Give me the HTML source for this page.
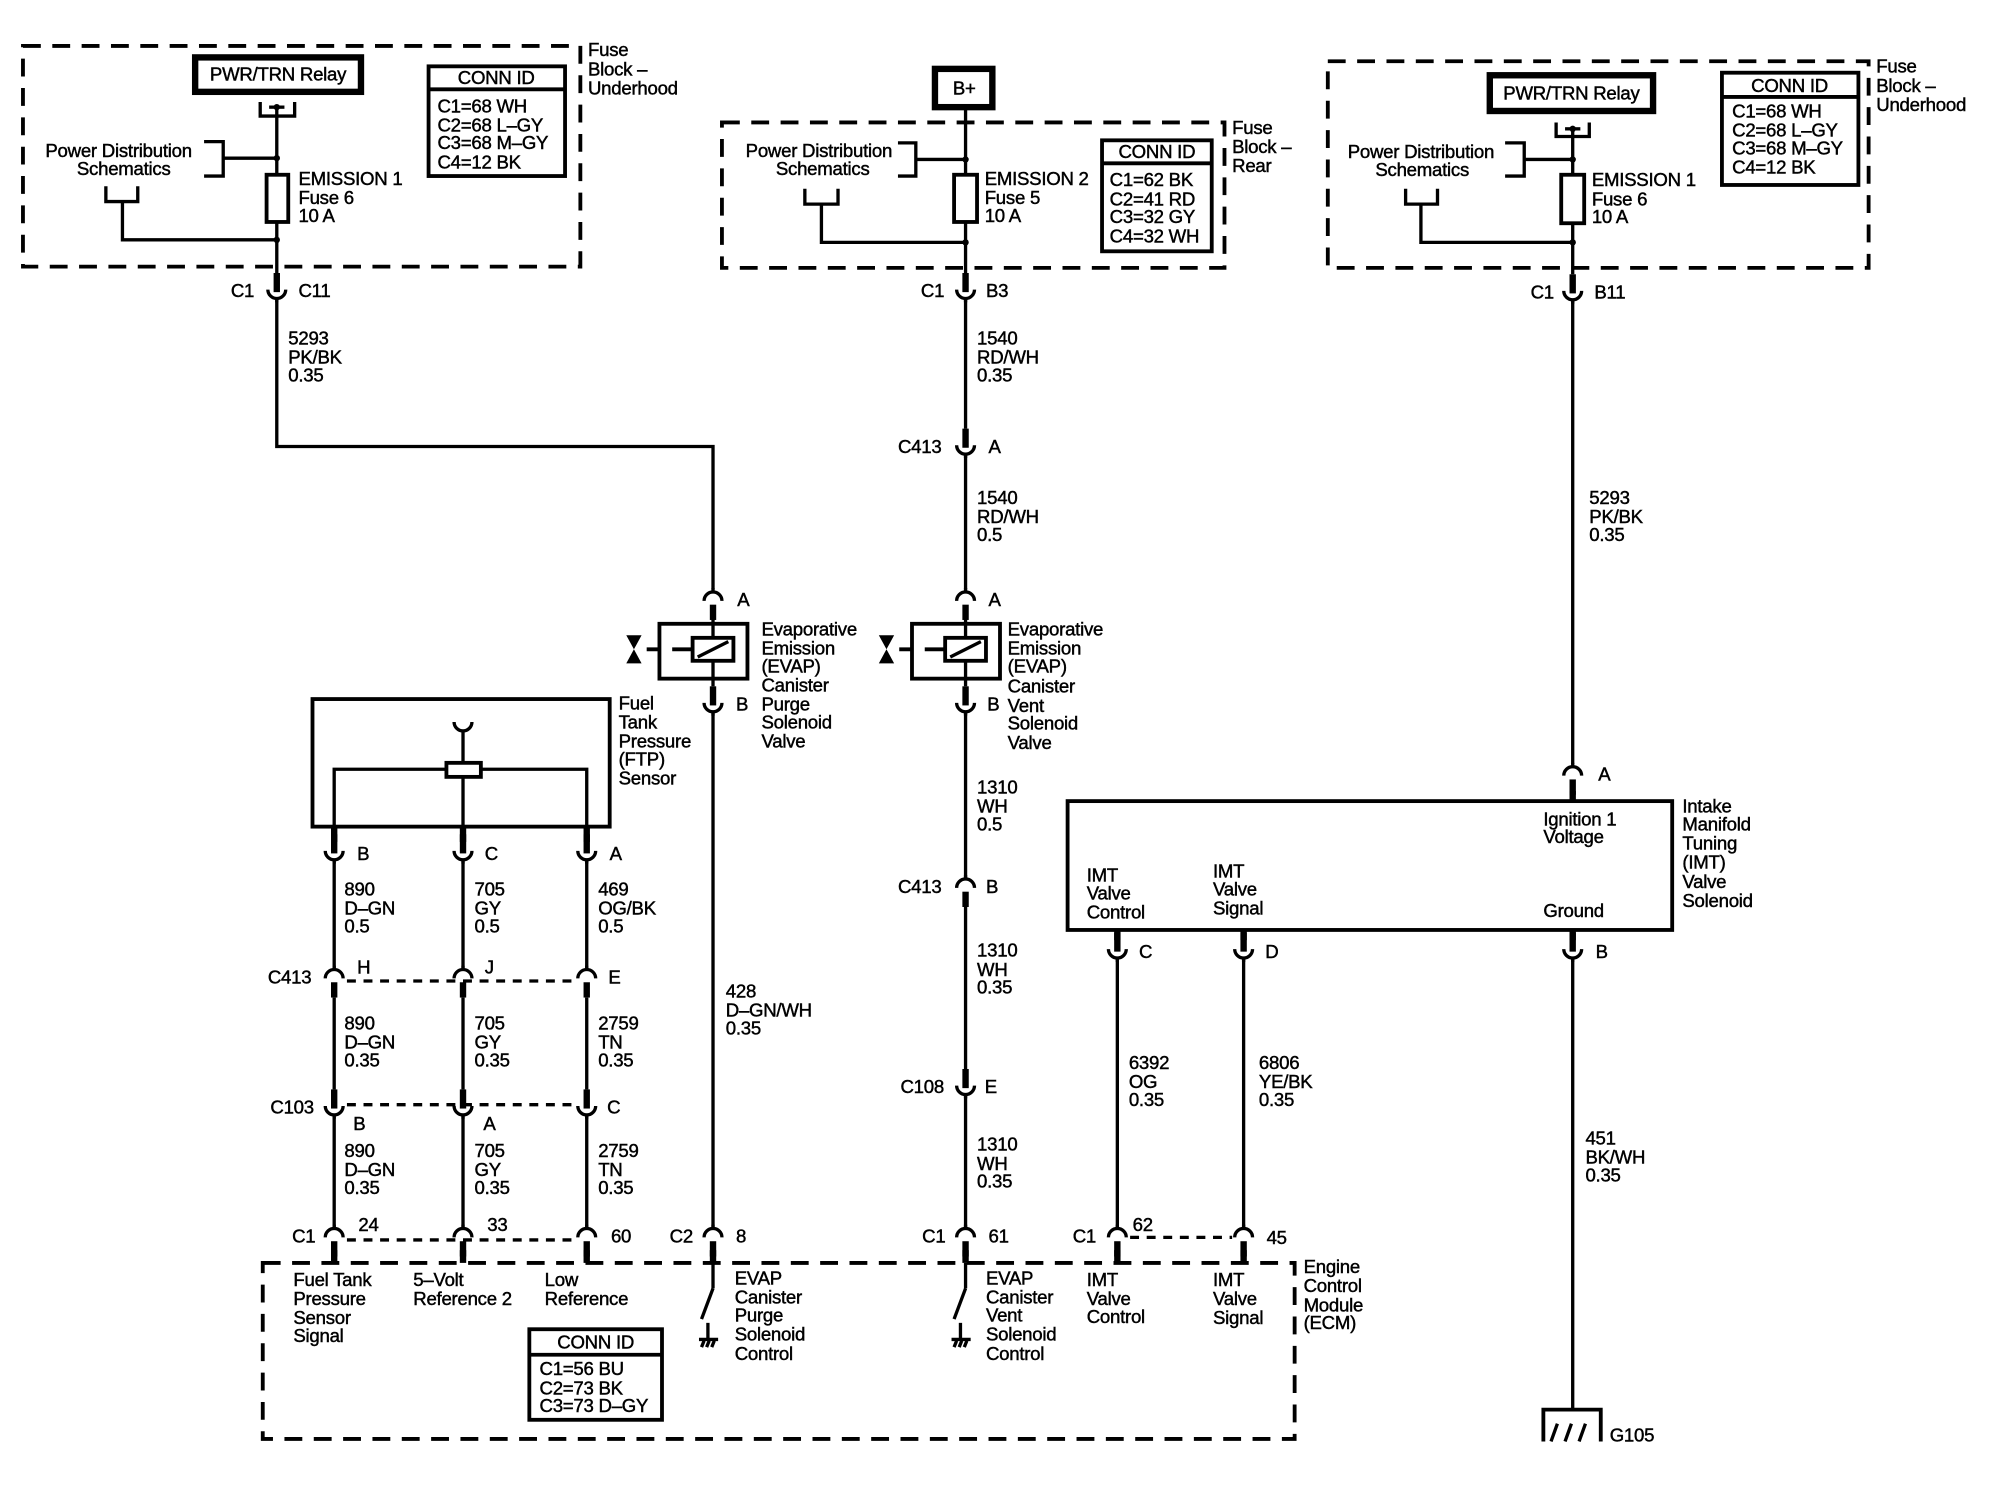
<!DOCTYPE html>
<html><head><meta charset="utf-8"><style>
html,body{margin:0;padding:0;background:#fff;}
svg{display:block;}
text{font-family:"Liberation Sans",Arial,sans-serif;font-size:14.6px;fill:#000;stroke:#000;stroke-width:0.35;letter-spacing:-0.2px;}
.w{stroke:#000;stroke-width:2.6;fill:none;}
.k{stroke:#000;stroke-width:5;fill:none;}
.d{stroke:#000;stroke-width:3;fill:none;stroke-dasharray:14 9;}
.dd{stroke:#000;stroke-width:2.6;fill:none;stroke-dasharray:7 6;}
.b{stroke:#000;stroke-width:3;fill:none;}
.m{text-anchor:middle;}
</style></head><body>
<svg width="2000" height="1504" viewBox="0 0 1568 1179" preserveAspectRatio="none" xmlns="http://www.w3.org/2000/svg">
<defs>
<g id="U"><path class="w" d="M-7 -1 A7 7 0 0 0 7 -1"/><line class="k" x1="0" y1="-14" x2="0" y2="1"/><line class="w" x1="0" y1="6" x2="0" y2="9"/></g>
<g id="N"><path class="w" d="M-7 1 A7 7 0 0 1 7 1"/><line class="k" x1="0" y1="4" x2="0" y2="16"/><line class="w" x1="0" y1="-9" x2="0" y2="-6"/></g>
<g id="SW"><line class="w" x1="0" y1="0" x2="0" y2="20"/><line class="w" x1="0" y1="20" x2="-9" y2="44"/><line class="w" x1="-4" y1="47" x2="-4" y2="60"/><line class="w" x1="-11" y1="60" x2="4" y2="60"/><path class="w" stroke-width="1.6" d="M-9 66 L-7 61 M-5 66 L-3 61 M-1 66 L1 61"/></g>
<g id="EV"><rect class="b" x="-42" y="0" width="69" height="43"/><rect class="b" x="-16" y="11" width="32" height="18"/><line class="w" x1="-12" y1="26" x2="12" y2="14"/><line class="w" x1="0" y1="-6" x2="0" y2="11"/><line class="w" x1="0" y1="29" x2="0" y2="49"/><path class="b" d="M-52 20 L-42 20 M-32 20 L-16 20"/><path fill="#000" d="M-68 9 L-56 9 L-62 20 Z M-68 31 L-56 31 L-62 20 Z"/></g>
</defs>

<!-- LEFT FUSE BLOCK -->
<rect class="d" x="18" y="36" width="437" height="173"/>
<text x="461" y="44">Fuse</text><text x="461" y="59">Block –</text><text x="461" y="74">Underhood</text>
<rect x="153" y="45" width="130" height="27" fill="none" stroke="#000" stroke-width="5"/>
<text x="218" y="63" class="m">PWR/TRN Relay</text>
<path class="w" d="M204 80 L204 91 L231 91 L231 80"/><circle cx="217" cy="84" r="2.5"/><line class="w" x1="211" y1="84" x2="223" y2="84"/>
<rect class="b" x="336" y="52" width="107" height="86"/><line class="b" x1="336" y1="70" x2="443" y2="70"/>
<text x="389" y="66" class="m">CONN ID</text>
<text x="343" y="88">C1=68 WH</text><text x="343" y="103">C2=68 L–GY</text><text x="343" y="117">C3=68 M–GY</text><text x="343" y="132">C4=12 BK</text>
<text x="93" y="123" class="m">Power Distribution</text><text x="97" y="137" class="m">Schematics</text>
<path class="w" d="M160 111 L175 111 L175 138 L160 138 M175 124 L217 124"/><circle cx="217" cy="124" r="2.5"/>
<path class="w" d="M83 146 L83 158 L108 158 L108 146 M96 158 L96 188 L217 188"/><circle cx="217" cy="188" r="2.5"/>
<rect class="b" x="209" y="137" width="17" height="37" fill="#fff"/>
<line class="w" x1="217" y1="84" x2="217" y2="137"/><line class="w" x1="217" y1="174" x2="217" y2="214"/>
<text x="234" y="145">EMISSION 1</text><text x="234" y="160">Fuse 6</text><text x="234" y="174">10 A</text>
<use href="#U" x="217" y="228"/><text x="181" y="233">C1</text><text x="234" y="233">C11</text>
<path class="w" d="M217 235 L217 350 L559 350 L559 462"/>
<text x="226" y="270">5293</text><text x="226" y="285">PK/BK</text><text x="226" y="299">0.35</text>

<!-- B+ / REAR FUSE BLOCK -->
<rect x="733" y="54" width="45" height="30" fill="none" stroke="#000" stroke-width="5"/>
<text x="756" y="74" class="m">B+</text>
<rect class="d" x="566" y="96" width="394" height="114"/>
<text x="966" y="105">Fuse</text><text x="966" y="120">Block –</text><text x="966" y="135">Rear</text>
<text x="642" y="123" class="m">Power Distribution</text><text x="645" y="137" class="m">Schematics</text>
<path class="w" d="M704 112 L718 112 L718 138 L704 138 M718 125 L757 125"/><circle cx="757" cy="125" r="2.5"/>
<path class="w" d="M631 148 L631 160 L657 160 L657 148 M644 160 L644 190 L757 190"/><circle cx="757" cy="190" r="2.5"/>
<line class="w" x1="757" y1="84" x2="757" y2="137"/><line class="w" x1="757" y1="174" x2="757" y2="214"/>
<rect class="b" x="748" y="137" width="18" height="37" fill="#fff"/>
<text x="772" y="145">EMISSION 2</text><text x="772" y="160">Fuse 5</text><text x="772" y="174">10 A</text>
<rect class="b" x="864" y="110" width="86" height="87"/><line class="b" x1="864" y1="128" x2="950" y2="128"/>
<text x="907" y="124" class="m">CONN ID</text>
<text x="870" y="146">C1=62 BK</text><text x="870" y="161">C2=41 RD</text><text x="870" y="175">C3=32 GY</text><text x="870" y="190">C4=32 WH</text>
<use href="#U" x="757" y="228"/><text x="722" y="233">C1</text><text x="773" y="233">B3</text>
<line class="w" x1="757" y1="235" x2="757" y2="336"/>
<text x="766" y="270">1540</text><text x="766" y="285">RD/WH</text><text x="766" y="299">0.35</text>
<use href="#U" x="757" y="350"/><text x="704" y="355">C413</text><text x="775" y="355">A</text>
<line class="w" x1="757" y1="357" x2="757" y2="462"/>
<text x="766" y="395">1540</text><text x="766" y="410">RD/WH</text><text x="766" y="424">0.5</text>

<!-- EVAP valves -->
<use href="#N" x="559" y="470"/><text x="578" y="475">A</text>
<use href="#EV" x="559" y="489"/>
<use href="#U" x="559" y="552"/><text x="577" y="557">B</text>
<text x="597" y="498">Evaporative</text><text x="597" y="513">Emission</text><text x="597" y="527">(EVAP)</text><text x="597" y="542">Canister</text><text x="597" y="557">Purge</text><text x="597" y="571">Solenoid</text><text x="597" y="586">Valve</text>
<line class="w" x1="559" y1="559" x2="559" y2="962"/>
<text x="569" y="782">428</text><text x="569" y="797">D–GN/WH</text><text x="569" y="811">0.35</text>

<use href="#N" x="757" y="470"/><text x="775" y="475">A</text>
<use href="#EV" x="757" y="489"/>
<use href="#U" x="757" y="552"/><text x="774" y="557">B</text>
<text x="790" y="498">Evaporative</text><text x="790" y="513">Emission</text><text x="790" y="527">(EVAP)</text><text x="790" y="543">Canister</text><text x="790" y="558">Vent</text><text x="790" y="572">Solenoid</text><text x="790" y="587">Valve</text>
<line class="w" x1="757" y1="559" x2="757" y2="688"/>
<text x="766" y="622">1310</text><text x="766" y="637">WH</text><text x="766" y="651">0.5</text>
<use href="#N" x="757" y="695"/><text x="704" y="700">C413</text><text x="773" y="700">B</text>
<line class="w" x1="757" y1="711" x2="757" y2="838"/>
<text x="766" y="750">1310</text><text x="766" y="765">WH</text><text x="766" y="779">0.35</text>
<use href="#U" x="757" y="852"/><text x="706" y="857">C108</text><text x="772" y="857">E</text>
<line class="w" x1="757" y1="859" x2="757" y2="962"/>
<text x="766" y="902">1310</text><text x="766" y="917">WH</text><text x="766" y="931">0.35</text>

<!-- FTP sensor -->
<rect class="b" x="245" y="548" width="233" height="100"/>
<text x="485" y="556">Fuel</text><text x="485" y="571">Tank</text><text x="485" y="586">Pressure</text><text x="485" y="600">(FTP)</text><text x="485" y="615">Sensor</text>
<path class="w" d="M356 566 A7 7 0 0 0 370 566"/><line class="w" x1="363" y1="573" x2="363" y2="598"/>
<rect class="b" x="350" y="598" width="27" height="11"/>
<path class="w" d="M262 648 L262 603 L350 603 M377 603 L460 603 L460 648 M363 609 L363 648"/>
<line class="k" x1="262" y1="648" x2="262" y2="660"/><line class="k" x1="363" y1="648" x2="363" y2="660"/><line class="k" x1="460" y1="648" x2="460" y2="660"/>
<use href="#U" x="262" y="668"/><use href="#U" x="363" y="668"/><use href="#U" x="460" y="668"/>
<text x="280" y="674">B</text><text x="380" y="674">C</text><text x="478" y="674">A</text>
<path class="w" d="M262 675 L262 759 M363 675 L363 759 M460 675 L460 759"/>
<text x="270" y="702">890</text><text x="270" y="717">D–GN</text><text x="270" y="731">0.5</text>
<text x="372" y="702">705</text><text x="372" y="717">GY</text><text x="372" y="731">0.5</text>
<text x="469" y="702">469</text><text x="469" y="717">OG/BK</text><text x="469" y="731">0.5</text>
<line class="dd" x1="272" y1="769" x2="452" y2="769"/>
<use href="#N" x="262" y="766"/><use href="#N" x="363" y="766"/><use href="#N" x="460" y="766"/>
<text x="210" y="771">C413</text><text x="280" y="763">H</text><text x="380" y="763">J</text><text x="477" y="771">E</text>
<path class="w" d="M262 782 L262 854 M363 782 L363 854 M460 782 L460 854"/>
<text x="270" y="807">890</text><text x="270" y="822">D–GN</text><text x="270" y="836">0.35</text>
<text x="372" y="807">705</text><text x="372" y="822">GY</text><text x="372" y="836">0.35</text>
<text x="469" y="807">2759</text><text x="469" y="822">TN</text><text x="469" y="836">0.35</text>
<line class="dd" x1="272" y1="866" x2="452" y2="866"/>
<use href="#U" x="262" y="868"/><use href="#U" x="363" y="868"/><use href="#U" x="460" y="868"/>
<text x="212" y="873">C103</text><text x="277" y="886">B</text><text x="379" y="886">A</text><text x="476" y="873">C</text>
<path class="w" d="M262 875 L262 962 M363 875 L363 962 M460 875 L460 962"/>
<text x="270" y="907">890</text><text x="270" y="922">D–GN</text><text x="270" y="936">0.35</text>
<text x="372" y="907">705</text><text x="372" y="922">GY</text><text x="372" y="936">0.35</text>
<text x="469" y="907">2759</text><text x="469" y="922">TN</text><text x="469" y="936">0.35</text>
<line class="dd" x1="272" y1="972" x2="452" y2="972"/>
<use href="#N" x="262" y="969"/><use href="#N" x="363" y="969"/><use href="#N" x="460" y="969"/>
<text x="229" y="974">C1</text><text x="281" y="965">24</text><text x="382" y="965">33</text><text x="479" y="974">60</text>
<use href="#N" x="559" y="969"/><text x="525" y="974">C2</text><text x="577" y="974">8</text>
<use href="#N" x="757" y="969"/><text x="723" y="974">C1</text><text x="775" y="974">61</text>
<line class="k" x1="262" y1="980" x2="262" y2="990"/><line class="k" x1="363" y1="980" x2="363" y2="990"/><line class="k" x1="460" y1="980" x2="460" y2="990"/>
<line class="k" x1="559" y1="980" x2="559" y2="990"/><line class="k" x1="757" y1="980" x2="757" y2="990"/>

<!-- ECM -->
<rect class="d" x="206" y="990" width="809" height="138"/>
<text x="1022" y="998">Engine</text><text x="1022" y="1013">Control</text><text x="1022" y="1028">Module</text><text x="1022" y="1042">(ECM)</text>
<text x="230" y="1008">Fuel Tank</text><text x="230" y="1023">Pressure</text><text x="230" y="1038">Sensor</text><text x="230" y="1052">Signal</text>
<text x="324" y="1008">5–Volt</text><text x="324" y="1023">Reference 2</text>
<text x="427" y="1008">Low</text><text x="427" y="1023">Reference</text>
<rect class="b" x="415" y="1042" width="104" height="71"/><line class="b" x1="415" y1="1062" x2="519" y2="1062"/>
<text x="467" y="1057" class="m">CONN ID</text>
<text x="423" y="1078">C1=56 BU</text><text x="423" y="1093">C2=73 BK</text><text x="423" y="1107">C3=73 D–GY</text>
<use href="#SW" x="559" y="990"/><use href="#SW" x="757" y="990"/>
<text x="576" y="1007">EVAP</text><text x="576" y="1022">Canister</text><text x="576" y="1036">Purge</text><text x="576" y="1051">Solenoid</text><text x="576" y="1066">Control</text>
<text x="773" y="1007">EVAP</text><text x="773" y="1022">Canister</text><text x="773" y="1036">Vent</text><text x="773" y="1051">Solenoid</text><text x="773" y="1066">Control</text>
<text x="852" y="1008">IMT</text><text x="852" y="1023">Valve</text><text x="852" y="1037">Control</text>
<text x="951" y="1008">IMT</text><text x="951" y="1023">Valve</text><text x="951" y="1038">Signal</text>

<!-- RIGHT FUSE BLOCK -->
<rect class="d" x="1041" y="48" width="424" height="162"/>
<text x="1471" y="57">Fuse</text><text x="1471" y="72">Block –</text><text x="1471" y="87">Underhood</text>
<rect x="1168" y="59" width="128" height="28" fill="none" stroke="#000" stroke-width="5"/>
<text x="1232" y="78" class="m">PWR/TRN Relay</text>
<path class="w" d="M1220 96 L1220 107 L1246 107 L1246 96"/><circle cx="1233" cy="101" r="2.5"/><line class="w" x1="1227" y1="101" x2="1239" y2="101"/>
<rect class="b" x="1350" y="57" width="107" height="88"/><line class="b" x1="1350" y1="76" x2="1457" y2="76"/>
<text x="1403" y="72" class="m">CONN ID</text>
<text x="1358" y="92">C1=68 WH</text><text x="1358" y="107">C2=68 L–GY</text><text x="1358" y="121">C3=68 M–GY</text><text x="1358" y="136">C4=12 BK</text>
<text x="1114" y="124" class="m">Power Distribution</text><text x="1115" y="138" class="m">Schematics</text>
<path class="w" d="M1180 112 L1195 112 L1195 138 L1180 138 M1195 125 L1233 125"/><circle cx="1233" cy="125" r="2.5"/>
<path class="w" d="M1102 148 L1102 160 L1127 160 L1127 148 M1114 160 L1114 190 L1233 190"/><circle cx="1233" cy="190" r="2.5"/>
<line class="w" x1="1233" y1="101" x2="1233" y2="137"/><line class="w" x1="1233" y1="175" x2="1233" y2="215"/>
<rect class="b" x="1224" y="137" width="18" height="38" fill="#fff"/>
<text x="1248" y="146">EMISSION 1</text><text x="1248" y="161">Fuse 6</text><text x="1248" y="175">10 A</text>
<use href="#U" x="1233" y="229"/><text x="1200" y="234">C1</text><text x="1250" y="234">B11</text>
<line class="w" x1="1233" y1="236" x2="1233" y2="599"/>
<text x="1246" y="395">5293</text><text x="1246" y="410">PK/BK</text><text x="1246" y="424">0.35</text>
<use href="#N" x="1233" y="607"/><text x="1253" y="612">A</text>
<line class="k" x1="1233" y1="620" x2="1233" y2="628"/>

<!-- IMT -->
<rect class="b" x="837" y="628" width="474" height="101"/>
<text x="1210" y="647">Ignition 1</text><text x="1210" y="661">Voltage</text>
<text x="852" y="691">IMT</text><text x="852" y="705">Valve</text><text x="852" y="720">Control</text>
<text x="951" y="688">IMT</text><text x="951" y="702">Valve</text><text x="951" y="717">Signal</text>
<text x="1210" y="719">Ground</text>
<text x="1319" y="637">Intake</text><text x="1319" y="651">Manifold</text><text x="1319" y="666">Tuning</text><text x="1319" y="681">(IMT)</text><text x="1319" y="696">Valve</text><text x="1319" y="711">Solenoid</text>
<line class="k" x1="876" y1="729" x2="876" y2="737"/><line class="k" x1="975" y1="729" x2="975" y2="737"/><line class="k" x1="1233" y1="729" x2="1233" y2="737"/>
<use href="#U" x="876" y="745"/><use href="#U" x="975" y="745"/><use href="#U" x="1233" y="745"/>
<text x="893" y="751">C</text><text x="992" y="751">D</text><text x="1251" y="751">B</text>
<path class="w" d="M876 752 L876 962 M975 752 L975 962 M1233 752 L1233 1105"/>
<text x="885" y="838">6392</text><text x="885" y="853">OG</text><text x="885" y="867">0.35</text>
<text x="987" y="838">6806</text><text x="987" y="853">YE/BK</text><text x="987" y="867">0.35</text>
<text x="1243" y="897">451</text><text x="1243" y="912">BK/WH</text><text x="1243" y="926">0.35</text>
<line class="dd" x1="886" y1="970" x2="966" y2="970"/>
<use href="#N" x="876" y="969"/><use href="#N" x="975" y="969"/>
<line class="k" x1="876" y1="980" x2="876" y2="990"/><line class="k" x1="975" y1="980" x2="975" y2="990"/>
<text x="841" y="974">C1</text><text x="888" y="965">62</text><text x="993" y="975">45</text>

<!-- G105 -->
<path class="b" d="M1210 1130 L1210 1105 L1255 1105 L1255 1130"/>
<path class="w" d="M1216 1130 L1221 1116 M1227 1130 L1232 1116 M1238 1130 L1243 1116"/>
<text x="1262" y="1130">G105</text>
</svg>
</body></html>
